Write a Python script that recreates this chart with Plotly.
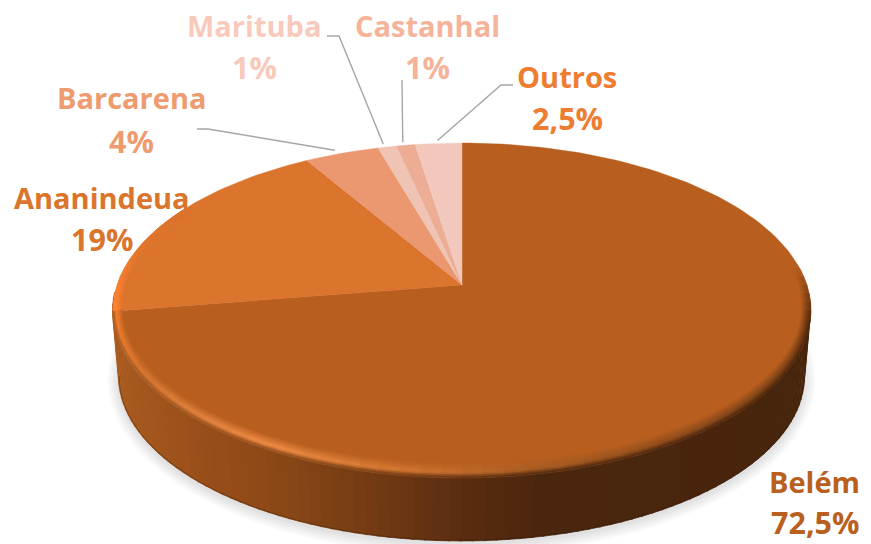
import numpy as np
import plotly.graph_objects as go

# ---- data ----
cities = ["Belém", "Ananindeua", "Barcarena", "Marituba", "Castanhal", "Outros"]
shares = [72.5, 19, 4, 1, 1, 2.5]
share_labels = ["72,5%", "19%", "4%", "1%", "1%", "2,5%"]

# ---- styles ----
slice_colors = ["#B85F20", "#DB742D", "#EB9871", "#F0C4B5", "#EDAC94", "#F3C8BC"]
text_colors = ["#B9601F", "#DB742C", "#EF9B70", "#F8CABB", "#F5B39A", "#ED7D31"]
name_pos = [(814, 481), (102, 197), (131, 97), (254, 25), (427, 25), (567, 76)]
value_pos = [(815, 522), (102, 239), (131, 141), (254, 67), (427, 67), (567, 118)]
# elbow ends of leader lines, and a small nudge of the end on the rim
leaders = {2: ([(197, 129), (208, 129)], -7), 3: ([(327, 36), (339, 36)], -4),
           4: ([(402, 80), (402, 80)], -3), 5: ([(513, 85), (501, 85)], -1)}

W, H = 871, 544
AX, AY = 462, 285          # apex of the pie
K, A, C = 0.1522, -120.2, 344.9   # perspective of the disc
ECX, ECY, ERX, ERY = 461.5, 310.5, 349, 167.5   # top rim as seen
BCX, BCY, BRX, BRY = 461.5, 376, 343, 165       # bottom rim as seen


def project(theta_deg, ru=1.0, rv=1.0):
    t = np.radians(theta_deg)
    u, v = np.sin(t) * ru, np.cos(t) * rv
    d = 1 + K * v
    return AX + C * u / d, (AY + A * v) / d


def hex2rgb(h):
    return np.array([int(h[i:i + 2], 16) for i in (1, 3, 5)], float)


def mix(a, b, f):
    f = float(np.clip(f, 0, 1))
    return a + (b - a) * f


def css(c):
    return "rgb(%d,%d,%d)" % tuple(np.round(c))


def ramp(x, xs, cols):
    arr = np.array([hex2rgb(c) for c in cols])
    return np.array([np.interp(x, xs, arr[:, i]) for i in range(3)])


def side_color(x):
    return ramp(x, [113, 200, 300, 400, 460, 540, 810],
                ["#A95B1F", "#9A4F1A", "#854515", "#6B3612", "#5A2D10", "#4A260E", "#48250D"])


fig = go.Figure()


def poly(xs, ys, color, lw=0.7):
    fig.add_trace(go.Scatter(x=list(xs), y=list(ys), mode="lines", fill="toself",
                             fillcolor=color, line=dict(color=color, width=lw),
                             hoverinfo="skip", showlegend=False))


# soft shadow under the disc
phi = np.radians(np.arange(0, 361, 4))
for s in (13, 11, 9, 7, 5, 3):
    poly(BCX + (BRX + s - 2) * np.cos(phi), BCY + 3 + (BRY + s - 2) * np.sin(phi),
         "rgba(90,90,90,0.028)", 0)

# side wall, shaded left to right
step = 2
for p in range(-6, 186, step):
    a, b = np.radians(p), np.radians(p + step + 0.3)
    xs = [ECX + ERX * np.cos(a), ECX + ERX * np.cos(b), BCX + BRX * np.cos(b), BCX + BRX * np.cos(a)]
    ys = [ECY + ERY * np.sin(a), ECY + ERY * np.sin(b), BCY + BRY * np.sin(b), BCY + BRY * np.sin(a)]
    poly(xs, ys, css(side_color(np.mean(xs))))
pb = np.radians(np.arange(0, 181, 2))
fig.add_trace(go.Scatter(x=BCX + (BRX - 0.5) * np.cos(pb), y=BCY + (BRY - 0.5) * np.sin(pb), mode="lines",
                         line=dict(color="rgba(45,22,8,0.3)", width=1.2),
                         hoverinfo="skip", showlegend=False))

# top face: one wedge per share, clockwise from twelve o'clock
edges = np.concatenate([[0], np.cumsum(shares)]) / np.sum(shares) * 360
mids = []
for i in range(len(shares)):
    th = np.linspace(edges[i], edges[i + 1], max(3, int((edges[i + 1] - edges[i]) / 1.5)))
    x, y = project(th)
    poly(np.r_[AX, x, AX], np.r_[AY, y, AY], slice_colors[i], 0.4)
    mids.append((edges[i] + edges[i + 1]) / 2)

# rim bevel
base0, base1 = hex2rgb(slice_colors[0]), hex2rgb(slice_colors[1])
BV_U, BV_V = 0.026, 0.066
N = 9
dth = 3.0
hi_th = [85, 105, 130, 150, 170, 190, 210, 240, 262, 275, 300]
hi_c = ["#5A2E10", "#6A3612", "#7E4418", "#8E4C1B", "#A85E24", "#D87A35", "#F4904A",
        "#D87A36", "#FF8230", "#F47E2E", "#DB742D"]
for th0 in np.arange(84, 300, dth):
    th1 = th0 + dth + 0.2
    mid = (th0 + th1) / 2
    base = base0 if mid < edges[1] else base1
    hi = ramp(mid, hi_th, hi_c)
    x0, _ = project(mid)
    sc = side_color(x0)
    if mid > 262:
        sc = hi
    fade = np.clip((mid - 84) / 18, 0, 1) * np.clip((300 - mid) / 30, 0, 1)
    for j in range(N):
        t0, t1 = j / N, (j + 1) / N
        tm = (t0 + t1) / 2
        col = mix(base, hi, tm / 0.68) if tm < 0.68 else mix(hi, sc, (tm - 0.68) / 0.32)
        col = mix(base, col, fade)
        ths = [th0, th1, th1, th0]
        rs = [t0, t0, t1, t1]
        pts = [project(a, 1 - BV_U * (1 - r), 1 - BV_V * (1 - r)) for a, r in zip(ths, rs)]
        poly([q[0] for q in pts], [q[1] for q in pts], css(col), 0.5)

# leader lines from slice rim to label
for i, (elbow, dx) in leaders.items():
    ex, ey = project(mids[i], 1.0, 1.0)
    xs = [elbow[0][0], elbow[1][0], float(ex) + dx]
    ys = [elbow[0][1], elbow[1][1], float(ey) - 3]
    fig.add_trace(go.Scatter(x=xs, y=ys, mode="lines", line=dict(color="#A6A6A6", width=1.4),
                             hoverinfo="skip", showlegend=False))

# labels: name and share on separate lines, set apart as in the source
for name, lab, col, np_, vp in zip(cities, share_labels, text_colors, name_pos, value_pos):
    fig.add_annotation(x=np_[0], y=np_[1], xref="x", yref="y", showarrow=False, align="center",
                       text="<b>%s</b>" % name, font=dict(family="Open Sans", size=29, color=col))
    fig.add_annotation(x=vp[0], y=vp[1], xref="x", yref="y", showarrow=False, align="center",
                       text="<b>%s</b>" % lab, font=dict(family="Open Sans", size=30.5, color=col))

fig.update_layout(width=W, height=H, margin=dict(l=0, r=0, t=0, b=0), autosize=False,
                  paper_bgcolor="white", plot_bgcolor="white", showlegend=False,
                  xaxis=dict(range=[0, W], visible=False, fixedrange=True),
                  yaxis=dict(range=[H, 0], visible=False, fixedrange=True))

fig.write_html("out.html", config={"displayModeBar": False},
               post_script="document.body.style.margin='0';document.body.style.overflow='hidden';")
